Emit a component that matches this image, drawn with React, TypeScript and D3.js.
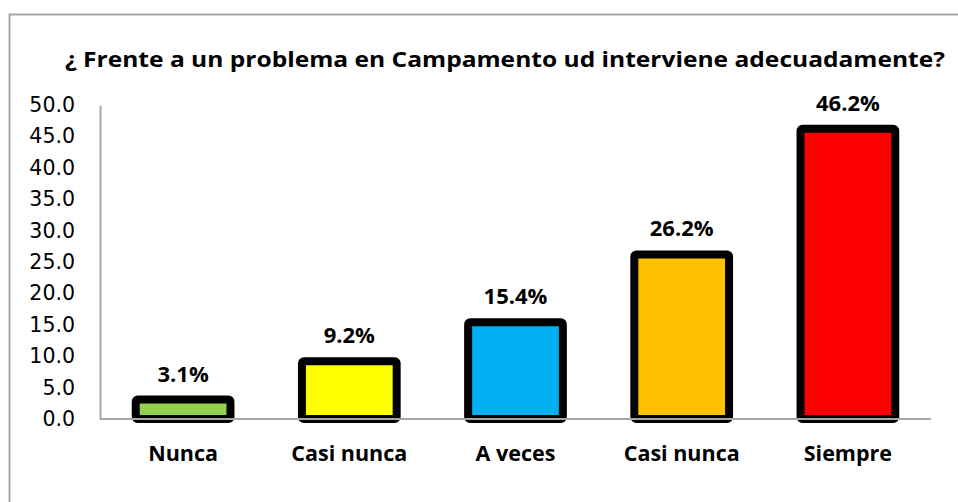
import React, { useEffect, useRef } from 'react';
import * as d3 from 'd3';

const categories = ['Nunca', 'Casi nunca', 'A veces', 'Casi nunca', 'Siempre'];
const values = [3.1, 9.2, 15.4, 26.2, 46.2];
const colors = ['#92D050', '#FFFF00', '#00B0F0', '#FFC000', '#FF0000'];
const yTicks = [0, 5, 10, 15, 20, 25, 30, 35, 40, 45, 50];
const title = '¿ Frente a un problema en Campamento ud interviene adecuadamente?';

const W = 958;
const H = 502;
const BOLD = '"Open Sans", Lato, sans-serif';

export default function App() {
  const svgRef = useRef<SVGSVGElement>(null);

  useEffect(() => {
    if (!svgRef.current) return;
    const svg = d3.select(svgRef.current);
    svg.selectAll('*').remove();

    const left = 100;
    const right = 931;
    const top = 105;
    const bottom = 419;

    // outer frame
    svg.append('rect')
      .attr('x', 9.5).attr('y', 14.5)
      .attr('width', W).attr('height', H)
      .attr('fill', '#fff')
      .attr('stroke', '#A6A6A6')
      .attr('stroke-width', 2);

    svg.append('text')
      .attr('x', 505).attr('y', 67)
      .attr('text-anchor', 'middle')
      .attr('font-family', BOLD)
      .attr('font-weight', 'bold')
      .attr('font-size', 22)
      .attr('textLength', 880)
      .attr('lengthAdjust', 'spacingAndGlyphs')
      .attr('fill', '#000')
      .text(title);

    const x = d3.scaleBand<number>()
      .domain(categories.map((_, i) => i))
      .range([left, right])
      .paddingInner(0.43)
      .paddingOuter(0.215);

    const y = d3.scaleLinear().domain([0, 50]).range([bottom, top]);

    // y axis
    const yAxis = svg.append('g').attr('transform', `translate(${left},0)`)
      .call(d3.axisLeft(y).tickValues(yTicks).tickSize(0).tickPadding(25).tickFormat(d => d3.format('.1f')(d as number)));
    yAxis.select('.domain').attr('stroke', '#A6A6A6').attr('stroke-width', 2);
    yAxis.selectAll('text')
      .attr('font-family', '"DejaVu Sans", sans-serif')
      .attr('font-size', 20.5)
      .attr('fill', '#000');

    // bars
    const bw = x.bandwidth();
    svg.append('g').selectAll('rect')
      .data(values)
      .join('rect')
      .attr('x', (_, i) => x(i)!)
      .attr('y', d => y(d))
      .attr('width', bw)
      .attr('height', d => bottom - y(d))
      .attr('rx', 2)
      .attr('fill', (_, i) => colors[i])
      .attr('stroke', '#000')
      .attr('stroke-width', 8)
      .attr('stroke-linejoin', 'round');

    // x axis line
    svg.append('line')
      .attr('x1', left).attr('x2', right)
      .attr('y1', bottom).attr('y2', bottom)
      .attr('stroke', '#A6A6A6')
      .attr('stroke-width', 2);

    // value labels
    svg.append('g').selectAll('text')
      .data(values)
      .join('text')
      .attr('x', (_, i) => x(i)! + bw / 2)
      .attr('y', d => y(d) - 18)
      .attr('text-anchor', 'middle')
      .attr('font-family', BOLD)
      .attr('font-weight', 'bold')
      .attr('font-size', 22)
      .text(d => `${d.toFixed(1)}%`);

    // category labels
    svg.append('g').selectAll('text')
      .data(categories)
      .join('text')
      .attr('x', (_, i) => x(i)! + bw / 2)
      .attr('y', 461)
      .attr('text-anchor', 'middle')
      .attr('font-family', BOLD)
      .attr('font-weight', 'bold')
      .attr('font-size', 21.5)
      .text(d => d);
  }, []);

  return (
    <svg ref={svgRef} width={W} height={H} style={{ position: 'absolute', left: 0, top: 0 }} />
  );
}
